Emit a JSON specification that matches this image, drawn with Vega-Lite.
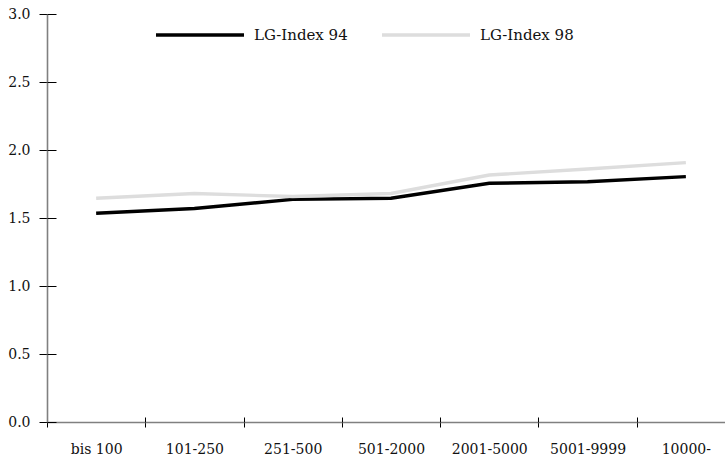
{
  "$schema": "https://vega.github.io/schema/vega-lite/v6.json",
  "width": 678,
  "height": 408,
  "autosize": "none",
  "padding": {"left": 47, "top": 14, "right": 0, "bottom": 35},
  "background": "white",
  "config": {
    "view": {"stroke": null},
    "font": "DejaVu Serif",
    "axis": {"labelFont": "DejaVu Serif", "labelFontSize": 14, "labelColor": "#111", "title": null, "grid": false}
  },
  "data": {
    "values": [
      {"groesse": "bis 100", "serie": "LG-Index 94", "wert": 1.535},
      {"groesse": "101-250", "serie": "LG-Index 94", "wert": 1.57},
      {"groesse": "251-500", "serie": "LG-Index 94", "wert": 1.637},
      {"groesse": "501-2000", "serie": "LG-Index 94", "wert": 1.645},
      {"groesse": "2001-5000", "serie": "LG-Index 94", "wert": 1.755},
      {"groesse": "5001-9999", "serie": "LG-Index 94", "wert": 1.767},
      {"groesse": "10000-", "serie": "LG-Index 94", "wert": 1.804},
      {"groesse": "bis 100", "serie": "LG-Index 98", "wert": 1.645},
      {"groesse": "101-250", "serie": "LG-Index 98", "wert": 1.68},
      {"groesse": "251-500", "serie": "LG-Index 98", "wert": 1.658},
      {"groesse": "501-2000", "serie": "LG-Index 98", "wert": 1.68},
      {"groesse": "2001-5000", "serie": "LG-Index 98", "wert": 1.816},
      {"groesse": "5001-9999", "serie": "LG-Index 98", "wert": 1.86},
      {"groesse": "10000-", "serie": "LG-Index 98", "wert": 1.907}
    ]
  },
  "layer": [
    {
      "mark": {"type": "line", "strokeWidth": 3.4, "strokeCap": "butt"},
      "encoding": {
        "x": {
          "field": "groesse", "type": "nominal", "sort": null,
          "scale": {"type": "band", "range": [0, 688], "paddingInner": 0, "paddingOuter": 0},
          "axis": {"orient": "bottom", "labelAngle": 0, "tickBand": "extent", "tickSize": 5, "tickColor": "#000", "tickWidth": 1, "domainColor": "#808080", "domainWidth": 1.6, "labelPadding": 15, "labelFontSize": 14}
        },
        "y": {
          "field": "wert", "type": "quantitative",
          "scale": {"domain": [0, 3], "nice": false, "zero": true},
          "axis": {"orient": "left", "values": [0, 0.5, 1, 1.5, 2, 2.5, 3], "format": ".1f", "tickSize": 8, "tickColor": "#000", "tickWidth": 1, "domainColor": "#808080", "domainWidth": 1.6, "labelPadding": 9, "labelFontSize": 14}
        },
        "color": {
          "field": "serie", "type": "nominal",
          "scale": {"domain": ["LG-Index 94", "LG-Index 98"], "range": ["#000000", "#dddddd"]},
          "legend": {
            "title": null, "orient": "none", "legendX": 107, "legendY": -25,
            "direction": "horizontal", "symbolType": "stroke", "symbolSize": 7744,
            "symbolStrokeWidth": 3.5, "labelOffset": 8, "columnPadding": 27,
            "labelFont": "DejaVu Serif", "labelFontSize": 15, "labelColor": "#111", "padding": 0
          }
        }
      }
    },
    {
      "mark": {"type": "line", "opacity": 0},
      "encoding": {
        "x": {
          "field": "groesse", "type": "nominal", "sort": null,
          "axis": {"orient": "bottom", "labels": false, "domain": false, "tickBand": "extent", "tickSize": -5, "tickColor": "#000", "tickWidth": 1}
        },
        "y": {
          "field": "wert", "type": "quantitative",
          "axis": {"orient": "left", "labels": false, "domain": false, "values": [0, 0.5, 1, 1.5, 2, 2.5, 3], "tickSize": -9, "tickColor": "#000", "tickWidth": 1}
        },
        "detail": {"field": "serie"}
      }
    }
  ],
  "resolve": {"axis": {"x": "independent", "y": "independent"}}
}
